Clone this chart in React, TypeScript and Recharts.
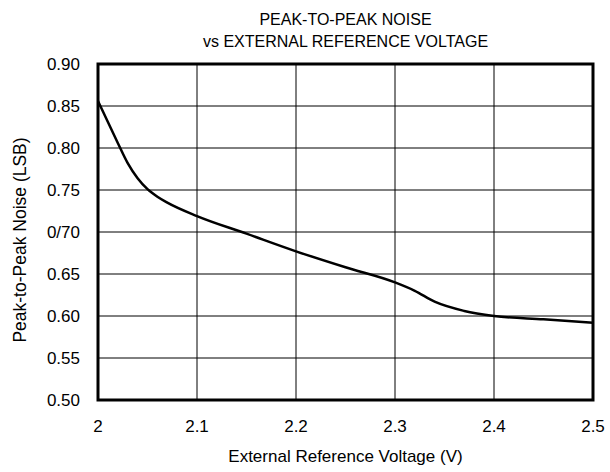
import { LineChart, Line, XAxis, YAxis, CartesianGrid, ReferenceArea } from 'recharts';

const voltage = [2.0, 2.01, 2.02, 2.03, 2.04, 2.05, 2.06, 2.07, 2.1, 2.15, 2.2, 2.25, 2.3, 2.32, 2.34, 2.37, 2.4, 2.45, 2.5];
const noise = [0.856, 0.831, 0.806, 0.782, 0.764, 0.751, 0.742, 0.735, 0.719, 0.698, 0.677, 0.658, 0.64, 0.63, 0.617, 0.606, 0.6, 0.596, 0.592];

const xTicks = [2, 2.1, 2.2, 2.3, 2.4, 2.5];
const yTicks = [0.5, 0.55, 0.6, 0.65, 0.7, 0.75, 0.8, 0.85, 0.9];
const yTickLabels = ['0.50', '0.55', '0.60', '0.65', '0/70', '0.75', '0.80', '0.85', '0.90'];

const data = voltage.map((v, i) => ({ v, n: noise[i] }));

const font = 'Liberation Sans, Arial, sans-serif';

export default function App() {
  return (
    <div style={{ position: 'absolute', left: 0, top: 0, width: 610, height: 472, background: '#fff', fontFamily: font }}>
      <div style={{ position: 'absolute', left: 98, width: 495, top: 9, textAlign: 'center', fontSize: 16, lineHeight: '22px', color: '#000' }}>
        PEAK-TO-PEAK NOISE
        <br />
        vs EXTERNAL REFERENCE VOLTAGE
      </div>
      <LineChart width={610} height={472} data={data} margin={{ top: 64, right: 17, bottom: 20, left: 38 }}>
        <CartesianGrid stroke="#000" strokeWidth={1} horizontalValues={yTicks} verticalValues={xTicks} />
        <XAxis
          dataKey="v"
          type="number"
          domain={[2, 2.5]}
          ticks={xTicks}
          tickFormatter={(t: number) => String(t)}
          axisLine={false}
          tickLine={false}
          tickSize={0}
          tickMargin={20}
          height={52}
          tick={{ fill: '#000', fontSize: 17, fontFamily: font }}
          label={{ value: 'External Reference Voltage (V)', position: 'insideBottom', offset: -10, fill: '#000', fontSize: 17, fontFamily: font }}
        />
        <YAxis
          type="number"
          domain={[0.5, 0.9]}
          ticks={yTicks}
          tickFormatter={(t: number) => yTickLabels[yTicks.indexOf(t)]}
          axisLine={false}
          tickLine={false}
          tickSize={0}
          tickMargin={18}
          width={60}
          tick={{ fill: '#000', fontSize: 17, fontFamily: font }}
          label={{ value: 'Peak-to-Peak Noise (LSB)', angle: -90, position: 'center', dx: -48, dy: 8, fill: '#000', fontSize: 17.5, fontFamily: font }}
        />
        <ReferenceArea x1={2} x2={2.5} y1={0.5} y2={0.9} fill="none" stroke="#000" strokeWidth={3} ifOverflow="visible" />
        <Line type="monotone" dataKey="n" stroke="#000" strokeWidth={2.5} dot={false} isAnimationActive={false} />
      </LineChart>
    </div>
  );
}
